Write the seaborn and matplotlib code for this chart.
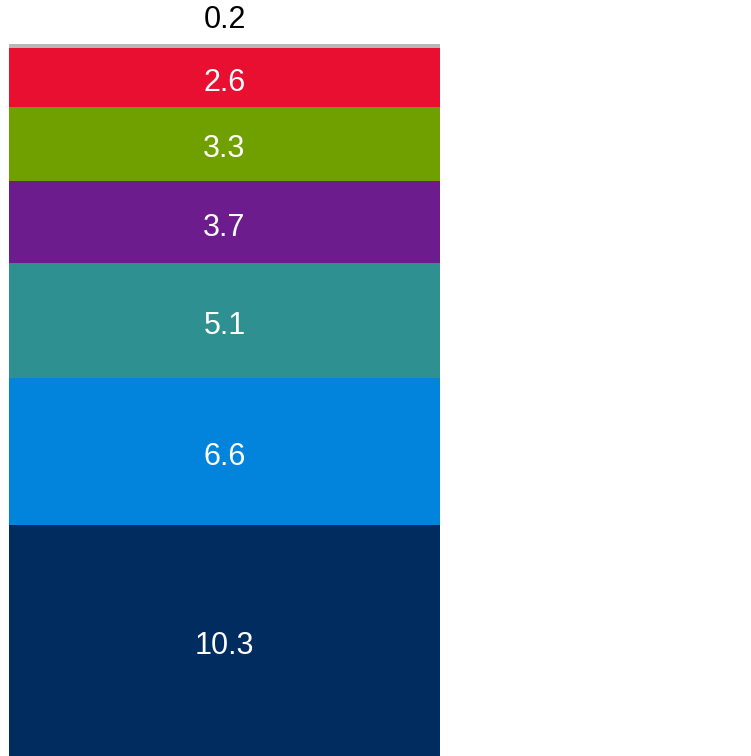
import numpy as np
import pandas as pd
import matplotlib
matplotlib.use("Agg")
import matplotlib.pyplot as plt
import seaborn as sns

# Segments of the single stacked column, bottom to top
segments = ["A", "B", "C", "D", "E", "F", "G"]
values = [10.3, 6.6, 5.1, 3.7, 3.3, 2.6, 0.2]
colors = ["#012c5f", "#0384dc", "#2e9090", "#6c1c8c", "#6fa000", "#e80f30", "#b8b8b8"]
label_colors = ["white", "white", "white", "white", "white", "white", "black"]

sns.set_theme(style="white")
plt.rcParams["font.family"] = ["Liberation Sans", "DejaVu Sans"]

fig = plt.figure(figsize=(7.51, 7.56), dpi=100)
total = sum(values)
ax = fig.add_axes([9 / 751, 0, 431 / 751, 712 / 756])

tops = np.cumsum(values)
bottoms = tops - np.array(values)

# Draw cumulative heights from the tallest down so each segment shows its own slice
for i in reversed(range(len(values))):
    df = pd.DataFrame({"x": ["col"], "y": [tops[i]]})
    sns.barplot(data=df, x="x", y="y", color=colors[i], width=1.0,
                saturation=1, ax=ax, linewidth=0)

for i, v in enumerate(values):
    if v < 1:
        ax.annotate(f"{v}", xy=(0, tops[i]), xytext=(0, 17), textcoords="offset points",
                    ha="center", va="center", fontsize=22, color=label_colors[i],
                    annotation_clip=False)
    else:
        ax.annotate(f"{v}", xy=(0, bottoms[i] + v / 2), xytext=(0, -4),
                    textcoords="offset points", ha="center", va="center",
                    fontsize=22, color=label_colors[i])

ax.set_xlim(-0.5, 0.5)
ax.set_ylim(0, total)
ax.set_axis_off()

fig.savefig("out.png", dpi=100)
